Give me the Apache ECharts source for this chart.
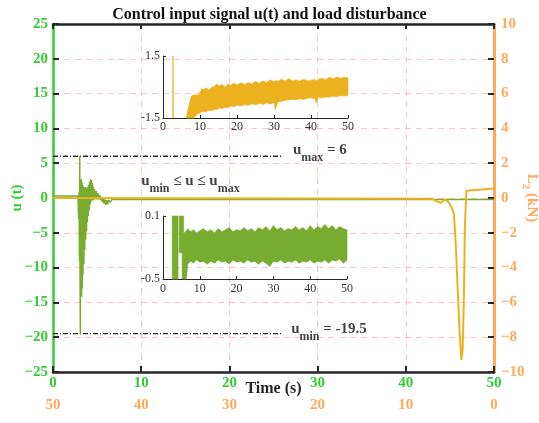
<!DOCTYPE html>
<html>
<head>
<meta charset="utf-8">
<script src="https://cdn.jsdelivr.net/npm/echarts@6/dist/echarts.min.js"></script>
<style>
  html, body { margin: 0; padding: 0; background: #ffffff; }
  #chart { width: 539px; height: 423px; }
</style>
</head>
<body>
<div id="chart"></div>
<script>
// ---- control input u(t), main axes (left scale) ----
const uTime = [0, 2.8, 2.85, 2.9, 2.95, 3.0, 3.03, 3.07, 3.1, 3.13, 3.16, 3.2, 3.24, 3.28,
  3.32, 3.36, 3.4, 3.45, 3.5, 3.55, 3.6, 3.65, 3.7, 3.75, 3.8, 3.85, 3.9, 3.95, 4.0, 4.05,
  4.1, 4.15, 4.2, 4.25, 4.3, 4.35, 4.4, 4.45, 4.5, 4.55, 4.6, 4.7, 4.8, 4.9, 5.0, 5.1,
  5.2, 5.3, 5.4, 5.5, 5.6, 5.7, 5.8, 5.9, 6.0, 6.1, 6.2, 6.3, 6.5, 6.7, 7.0, 50];
const uValue = [0.3, 0.3, -0.5, -3, 0.9, -9, 6, -12, -19.5, 2.0, -14, 2.7, -14.2, 2.3,
  -13, 1.9, -11, 1.6, -9.5, 1.4, -7.5, 1.6, -6, 1.5, -4.8, 1.3, -3.5, 1.6, -2.6, 1.9,
  -1.8, 2.3, -1.0, 2.7, -0.6, 2.6, -0.4, 2.2, -0.3, 1.6, -0.3, 1.3, -0.2, 1.0, -0.2, 0.7,
  -0.2, 0.4, -0.3, 0.1, -0.6, -0.1, -0.8, -0.2, -1.0, -0.3, -0.9, -0.3, -0.6, -0.2, -0.2, -0.2];

// ---- load disturbance (right scale, kN) ----
const loadTime = [0, 43.0, 43.5, 44.0, 44.4, 44.8, 45.2, 45.45, 45.65, 45.9, 46.1, 46.3,
  46.45, 46.6, 46.7, 46.87, 47.0, 50];
const loadValue = [0, -0.05, -0.2, -0.27, -0.1, -0.2, -0.55, -0.9, -2.5, -5.4, -7.7, -9.3,
  -8.7, -5.4, -1.6, 0.42, 0.52, 0.55];

// ---- saturation limits ----
const uMax = 6;
const uMin = -19.5;
const limitEnd = 26;

// ---- upper inset: disturbance band (envelopes), range -1.5..1.5 ----
const innerFSpikeTime = [2.67, 2.7, 2.73];
const innerFSpikeValue = [-1.5, 1.5, -1.5];
const innerFTime = [6.3, 6.6, 7.0, 7.4, 7.7, 8.1, 8.6, 9.2, 9.8, 10.4, 11.0, 11.7, 12.4, 13.1,
  13.8, 14.5, 15.2, 16.0, 16.8, 17.6, 18.4, 19.2, 20, 21, 22, 23, 24, 25, 26, 27, 28, 29, 30,
  30.4, 31, 32, 33, 34, 35, 36, 37, 38, 39, 40, 41, 41.4, 42, 43, 44, 45, 46, 47, 48, 49, 50];
const innerFHigh = [-1.5, -1.2, -0.9, -0.6, -0.45, -0.4, -0.38, -0.4, -0.35, -0.08, -0.12,
  -0.05, -0.15, -0.02, 0.02, 0.14, 0.05, 0.12, 0.0, 0.15, 0.08, 0.18, 0.1, 0.2, 0.12, 0.22,
  0.15, 0.28, 0.18, 0.3, 0.22, 0.35, 0.25, 0.32, 0.28, 0.38, 0.3, 0.4, 0.3, 0.35, 0.28, 0.38,
  0.3, 0.33, 0.36, 0.3, 0.38, 0.42, 0.35, 0.47, 0.4, 0.48, 0.42, 0.47, 0.45];
const innerFLow = [-1.5, -1.5, -1.5, -1.5, -1.5, -1.5, -1.45, -1.3, -1.28, -1.22, -1.18, -1.2,
  -1.12, -1.15, -1.08, -1.1, -1.02, -1.05, -0.98, -1.0, -0.92, -0.95, -0.88, -0.92, -0.85,
  -0.9, -0.82, -0.86, -0.8, -0.85, -0.78, -0.82, -0.75, -1.1, -0.72, -0.7, -0.65, -0.62,
  -0.6, -0.62, -0.57, -0.6, -0.55, -0.53, -0.56, -0.78, -0.5, -0.52, -0.48, -0.5, -0.45,
  -0.47, -0.42, -0.44, -0.4];

// ---- lower inset: control input band (envelopes), range -0.5..0.1 ----
const innerUTime = [2.5, 4.1, null, 4.4, 5.6, null, 5.2, 6.0, 6.4, 6.7, 7.5, 8.3, 9.1, 10,
  11, 12, 13, 14, 15, 16, 17, 18, 19, 20, 21, 22, 23, 24, 25, 26, 27, 28, 29, 30, 31, 32, 33,
  34, 35, 36, 37, 38, 39, 40, 41, 42, 43, 44, 45, 46, 47, 48, 49, 50];
const innerUHigh = [0.1, 0.1, null, 0.1, 0.1, null, -0.08, -0.05, -0.04, -0.02, -0.05, -0.03,
  -0.06, -0.04, -0.02, -0.05, -0.03, -0.06, -0.02, -0.05, -0.03, -0.01, -0.05, -0.03, -0.04,
  -0.01, -0.04, -0.02, -0.05, -0.01, -0.03, 0.0, -0.04, 0.01, -0.03, -0.01, -0.04, -0.02,
  -0.03, 0.0, -0.03, -0.01, -0.04, 0.01, -0.03, 0.0, -0.02, 0.02, -0.02, 0.01, -0.03, 0.0,
  -0.02, -0.03];
const innerULow = [-0.5, -0.5, null, -0.25, -0.25, null, -0.5, -0.5, -0.5, -0.36, -0.33,
  -0.35, -0.32, -0.34, -0.33, -0.36, -0.33, -0.35, -0.32, -0.34, -0.33, -0.36, -0.32, -0.34,
  -0.33, -0.35, -0.32, -0.34, -0.33, -0.36, -0.33, -0.35, -0.38, -0.33, -0.34, -0.32, -0.35,
  -0.33, -0.34, -0.32, -0.35, -0.33, -0.34, -0.32, -0.35, -0.33, -0.34, -0.32, -0.35, -0.32,
  -0.33, -0.31, -0.35, -0.32];

// ---- styling ----
const SERIF = "'Liberation Serif','Times New Roman',serif";
const GREEN_AXIS = '#33CC33';
const ORANGE_AXIS = '#FFAA5A';
const U_COLOR = '#77AC30';
const LOAD_COLOR = '#EDB120';
const DARK = '#262626';
const GRID_PINK = 'rgba(255,110,110,0.4)';

const zip = (xs, ys) => xs.map((x, i) => [x, ys[i]]);
const withMinus = v => String(v).replace('-', '\u2212');

// filled envelope polygons; null entries split the band into pieces
function bandRenderer(times, high, low, color) {
  return function (params, api) {
    if (params.dataIndex !== 0) return;
    const children = [];
    let upper = [], lower = [];
    const flush = () => {
      if (upper.length > 1) {
        children.push({
          type: 'polygon',
          shape: { points: upper.concat(lower.reverse()) },
          style: { fill: color, stroke: color, lineWidth: 0.6 }
        });
      }
      upper = []; lower = [];
    };
    for (let i = 0; i < times.length; i++) {
      if (times[i] === null) { flush(); continue; }
      upper.push(api.coord([times[i], high[i]]));
      lower.push(api.coord([times[i], low[i]]));
    }
    flush();
    return { type: 'group', children: children };
  };
}

const boldText = { fontFamily: SERIF, fontWeight: 'bold', fontSize: 15, color: '#111', lineHeight: 16 };
const subText = { fontFamily: SERIF, fontWeight: 'bold', fontSize: 12, color: '#111', lineHeight: 12, padding: [16, 0, 0, 0] };

const insetXAxis = (grid, margin) => ({
  gridIndex: grid, type: 'value', min: 0, max: 50, interval: 10, z: 3,
  axisLine: { show: true, onZero: false, lineStyle: { color: DARK, width: 1 } },
  axisTick: { show: true, inside: true, length: 3, lineStyle: { color: DARK, width: 1 } },
  axisLabel: { color: '#333', fontFamily: SERIF, fontSize: 12, margin: margin },
  splitLine: { show: false }
});
const insetYAxis = (grid, lo, hi) => ({
  gridIndex: grid, type: 'value', min: lo, max: hi, z: 3,
  axisLine: { show: true, onZero: false, lineStyle: { color: DARK, width: 1 } },
  axisTick: { show: true, inside: true, length: 3, customValues: [lo, hi], lineStyle: { color: DARK, width: 1 } },
  axisLabel: { color: '#333', fontFamily: SERIF, fontSize: 12, margin: 3, customValues: [lo, hi] },
  splitLine: { show: false }
});

const chart = echarts.init(document.getElementById('chart'), null, { renderer: 'canvas' });

chart.setOption({
  animation: false,
  backgroundColor: '#ffffff',
  title: {
    text: 'Control input signal u(t) and load disturbance',
    left: 'center', top: 2,
    textStyle: { fontFamily: SERIF, fontWeight: 'bold', fontSize: 16, color: '#111' }
  },
  grid: [
    { left: 53, right: 45, top: 24, bottom: 51, show: false, outerBoundsMode: 'none', containLabel: false },
    { left: 163, right: 191, top: 56, bottom: 305, show: true, backgroundColor: '#ffffff', borderWidth: 0, outerBoundsMode: 'none', containLabel: false },
    { left: 163, right: 192, top: 216, bottom: 144, show: true, backgroundColor: '#ffffff', borderWidth: 0, outerBoundsMode: 'none', containLabel: false }
  ],
  xAxis: [
    {
      gridIndex: 0, type: 'value', position: 'bottom', min: 0, max: 50, interval: 10,
      axisLine: { show: true, onZero: false, lineStyle: { color: DARK, width: 2.5 } },
      axisTick: { show: true, inside: true, length: 6, lineStyle: { color: DARK, width: 2 } },
      axisLabel: { color: GREEN_AXIS, fontFamily: SERIF, fontWeight: 'bold', fontSize: 15, margin: 4 },
      splitLine: { show: true, lineStyle: { color: GRID_PINK, type: [6, 5], width: 1 } },
      name: 'Time (s)', nameLocation: 'middle', nameGap: 9, nameMoveOverlap: false,
      nameTextStyle: { color: DARK, fontFamily: SERIF, fontWeight: 'bold', fontSize: 16 }
    },
    {
      gridIndex: 0, type: 'value', position: 'bottom', inverse: true, min: 0, max: 50, interval: 10,
      axisLine: { show: false }, axisTick: { show: false }, splitLine: { show: false },
      axisLabel: { color: ORANGE_AXIS, fontFamily: SERIF, fontWeight: 'bold', fontSize: 15, margin: 26 }
    },
    {
      gridIndex: 0, type: 'value', position: 'top', min: 0, max: 50, interval: 10,
      axisLine: { show: true, onZero: false, lineStyle: { color: DARK, width: 2.5 } },
      axisTick: { show: true, inside: true, length: 5, lineStyle: { color: DARK, width: 2 } },
      axisLabel: { show: false }, splitLine: { show: false }
    },
    insetXAxis(1, 3),
    insetXAxis(2, 4)
  ],
  yAxis: [
    {
      gridIndex: 0, type: 'value', position: 'left', min: -25, max: 25, interval: 5,
      axisLine: { show: true, onZero: false, lineStyle: { color: GREEN_AXIS, width: 2.5 } },
      axisTick: { show: true, inside: true, length: 6, lineStyle: { color: DARK, width: 2 } },
      axisLabel: { color: GREEN_AXIS, fontFamily: SERIF, fontWeight: 'bold', fontSize: 15, margin: 5, formatter: withMinus },
      splitLine: { show: true, lineStyle: { color: GRID_PINK, type: [6, 5], width: 1 } },
      name: 'u (t)', nameLocation: 'middle', nameGap: 28, nameMoveOverlap: false,
      nameTextStyle: { color: GREEN_AXIS, fontFamily: SERIF, fontWeight: 'bold', fontSize: 15 }
    },
    {
      gridIndex: 0, type: 'value', position: 'right', min: -10, max: 10, interval: 2,
      axisLine: { show: true, onZero: false, lineStyle: { color: ORANGE_AXIS, width: 3 } },
      axisTick: { show: true, inside: true, length: 6, lineStyle: { color: DARK, width: 2 } },
      axisLabel: { color: ORANGE_AXIS, fontFamily: SERIF, fontWeight: 'bold', fontSize: 15, margin: 7, formatter: withMinus },
      splitLine: { show: false },
      name: '{a|L}{s|2}{a| (kN)}', nameLocation: 'middle', nameGap: 30, nameRotate: -90, nameMoveOverlap: false,
      nameTextStyle: {
        color: ORANGE_AXIS,
        rich: {
          a: { fontFamily: SERIF, fontWeight: 'bold', fontSize: 15, color: ORANGE_AXIS, lineHeight: 16 },
          s: { fontFamily: SERIF, fontWeight: 'bold', fontSize: 11, color: ORANGE_AXIS, lineHeight: 11, padding: [12, 0, 0, 0] }
        }
      }
    },
    insetYAxis(1, -1.5, 1.5),
    insetYAxis(2, -0.5, 0.1)
  ],
  series: [
    {
      name: 'u(t)', type: 'line', xAxisIndex: 0, yAxisIndex: 0,
      data: zip(uTime, uValue), showSymbol: false, symbol: 'none',
      lineStyle: { color: U_COLOR, width: 1.5 }, z: 2
    },
    {
      name: 'load', type: 'line', xAxisIndex: 0, yAxisIndex: 1,
      data: zip(loadTime, loadValue), showSymbol: false, symbol: 'none',
      lineStyle: { color: LOAD_COLOR, width: 2 }, z: 2
    },
    {
      name: 'u max', type: 'line', xAxisIndex: 0, yAxisIndex: 0,
      data: [[0, uMax], [limitEnd, uMax]], symbol: 'none',
      lineStyle: { color: DARK, width: 1.3, type: [5, 2, 1, 2] }, z: 1
    },
    {
      name: 'u min', type: 'line', xAxisIndex: 0, yAxisIndex: 0,
      data: [[0, uMin], [limitEnd, uMin]], symbol: 'none',
      lineStyle: { color: DARK, width: 1.3, type: [5, 2, 1, 2] }, z: 1
    },
    {
      name: 'notes', type: 'scatter', xAxisIndex: 0, yAxisIndex: 0,
      symbolSize: 2, itemStyle: { color: 'rgba(0,0,0,0)' }, z: 5,
      label: {
        show: true, position: 'inside', align: 'left', verticalAlign: 'middle',
        formatter: p => p.data.text,
        rich: { b: boldText, s: subText }
      },
      labelLayout: { hideOverlap: false },
      data: [
        { value: [27.2, 6.9], text: '{b|u}{s|max}{b| = 6}' },
        { value: [10.0, 2.4], text: '{b|u}{s|min}{b| ≤ u ≤ u}{s|max}' },
        { value: [27.0, -18.88], text: '{b|u}{s|min}{b| = -19.5}' }
      ]
    },
    {
      name: 'inset load spike', type: 'line', xAxisIndex: 3, yAxisIndex: 2,
      data: zip(innerFSpikeTime, innerFSpikeValue), symbol: 'none',
      lineStyle: { color: LOAD_COLOR, width: 1.2 }, z: 4
    },
    {
      name: 'inset load', type: 'custom', xAxisIndex: 3, yAxisIndex: 2, z: 4,
      data: [[innerFTime[0], innerFHigh[0]]],
      renderItem: bandRenderer(innerFTime, innerFHigh, innerFLow, LOAD_COLOR)
    },
    {
      name: 'inset u', type: 'custom', xAxisIndex: 4, yAxisIndex: 3, z: 4,
      data: [[innerUTime[0], innerUHigh[0]]],
      renderItem: bandRenderer(innerUTime, innerUHigh, innerULow, U_COLOR)
    }
  ]
});
</script>
</body>
</html>
